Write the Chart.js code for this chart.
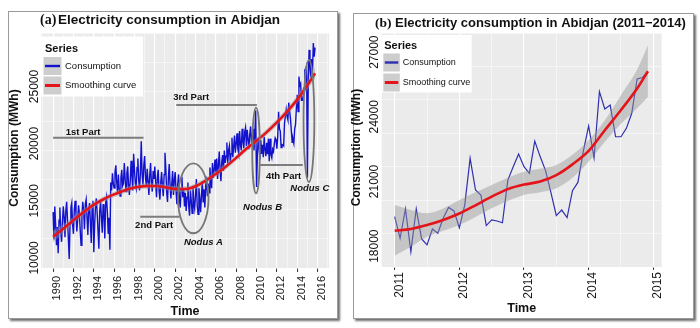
<!DOCTYPE html>
<html>
<head>
<meta charset="utf-8">
<script src="https://cdn.jsdelivr.net/npm/chart.js@4.4.1/dist/chart.umd.min.js"></script>
<style>
  html, body { margin: 0; padding: 0; background: #fff; }
  body { width: 700px; height: 328px; position: relative; overflow: hidden; }
  .frame { position: absolute; border: 1px solid #9a9a9a; box-shadow: 2px 2px 2px #6f6f6f; background: #fff; }
  #frameA { left: 8px; top: 11px; width: 328px; height: 306px; }
  #frameB { left: 353px; top: 13px; width: 339px; height: 304px; }
  canvas { position: absolute; top: 0; }
</style>
</head>
<body>
<div class="frame" id="frameA"></div>
<div class="frame" id="frameB"></div>
<canvas id="chartA" width="345" height="328" style="left:0"></canvas>
<canvas id="chartB" width="350" height="328" style="left:350px"></canvas>
<script>
// monthly consumption (MWh), January 1990 onwards
const consumption1990_2010 = [
  12500, 10100, 13000, 11400, 9600, 11200, 8900, 11800, 12900, 10800, 9900, 11600,   // 1990
  13000, 12100, 10300, 12600, 13400, 11800, 10200, 8400, 11500, 12900, 13300, 11400, // 1991
  10600, 12700, 13500, 12300, 10800, 11900, 13100, 12400, 10900, 9600, 12200, 13400, // 1992
  12600, 11000, 13200, 13600, 12100, 10500, 12700, 13300, 11600, 9800, 12800, 13500, // 1993
  9000, 11400, 13000, 13700, 12400, 10900, 9300, 12600, 13500, 12000, 10700, 13200,  // 1994
  12400, 10200, 13300, 13800, 12500, 10600, 12000, 9200, 15100, 14400, 15900, 15000, // 1995
  14600, 16000, 16600, 15200, 14200, 15800, 14500, 13900, 15500, 16200, 14800, 15000, // 1996
  16800, 15400, 14300, 15900, 16500, 14900, 14000, 15200, 17000, 15600, 14400, 17600, // 1997
  16200, 15000, 14600, 16400, 17200, 15300, 14400, 16000, 18700, 15800, 14900, 16600, // 1998
  17400, 15500, 14800, 16300, 15200, 14000, 15700, 16800, 15000, 14300, 16100, 15400, // 1999
  16500, 15000, 13800, 15600, 16200, 14400, 13600, 15100, 16000, 14700, 13900, 15800, // 2000
  17700, 16300, 14200, 13400, 15500, 16700, 14800, 13700, 15000, 16100, 14000, 15300, // 2001
  16000, 14400, 13200, 14900, 15800, 13600, 12900, 14500, 15600, 13800, 14600, 13000, // 2002
  14200, 12600, 13800, 15100, 13000, 12200, 14400, 13500, 12400, 14800, 13300, 12800, // 2003
  14000, 15400, 13100, 12300, 14600, 13700, 12500, 13900, 15200, 13400, 14500, 12900, // 2004
  14800, 15600, 13900, 15000, 14200, 16400, 15300, 14600, 16800, 15500, 16200, 17100, // 2005
  16000, 17200, 15400, 16600, 17800, 16200, 15200, 16900, 17500, 16100, 17900, 16800, // 2006
  17400, 18600, 16700, 17900, 18300, 16900, 17600, 19000, 17300, 18200, 19200, 17700, // 2007
  18500, 19400, 18000, 17600, 19600, 18400, 17900, 19800, 18700, 18100, 19500, 19900, // 2008
  18300, 19700, 18900, 18000, 19300, 20000, 18600, 19100, 19800, 17900, 19200, 21400, // 2009
  14700, 17500, 19000, 18200, 17100, 18800, 17600, 18400, 17300, 19100, 18000, 17400  // 2010
];
const consumption2011_2014 = [
  18570, 17570, 18930, 16950, 18930, 17540, 17260, 18000, 17800, 18500, 19000, 18840, // 2011
  18060, 19110, 21280, 19810, 19580, 18160, 18420, 18370, 18290, 20270, 20890, 21480, // 2012
  20890, 20580, 22080, 21360, 20710, 19690, 18620, 18880, 18530, 19780, 20160, 21590, // 2013
  22780, 21310, 24370, 23570, 23750, 22280, 22280, 22670, 23370, 24960, 25030, 25300  // 2014
];
const consumption2015 = [15500, 23800, 26700, 25200, 24300, 25900, 24800, 27300, 26100, 26900];

// smoothing curve and its confidence band, panel (a)
const smoothYearsA = [1990, 1991, 1992, 1993, 1994, 1995, 1996, 1997, 1998, 1999, 2000, 2001, 2002, 2003,
  2004, 2005, 2006, 2007, 2008, 2009, 2010, 2011, 2012, 2013, 2014, 2015, 2015.75];
const smoothA = [10350, 11050, 11800, 12500, 13150, 13650, 14050, 14400, 14650, 14780, 14790, 14680, 14520, 14520,
  14760, 15250, 15850, 16500, 17250, 18050, 18750, 19500, 20350, 21300, 22350, 23600, 24660];
const bandHighA = [10870, 11430, 12100, 12770, 13400, 13890, 14290, 14640, 14890, 15020, 15030, 14920, 14770, 14770,
  15010, 15500, 16100, 16750, 17500, 18310, 19020, 19780, 20640, 21610, 22690, 24000, 25200];
const bandLowA = [9830, 10670, 11500, 12230, 12900, 13410, 13810, 14160, 14410, 14540, 14550, 14440, 14270, 14270,
  14510, 15000, 15600, 16250, 17000, 17790, 18480, 19220, 20060, 20990, 22010, 23200, 24120];

// smoothing curve and its confidence band, panel (b)
const smoothYearsB = [2011, 2011.25, 2011.5, 2011.75, 2012, 2012.25, 2012.5, 2012.75, 2013, 2013.25, 2013.5,
  2013.75, 2014, 2014.25, 2014.5, 2014.75, 2014.917];
const smoothB = [17920, 18000, 18180, 18420, 18720, 19100, 19500, 19850, 20060, 20200, 20500,
  21000, 21620, 22580, 23520, 24520, 25320];
const bandHighB = [19110, 18880, 18730, 18950, 19340, 19700, 20040, 20380, 20660, 20800, 20970,
  21450, 22130, 23050, 24210, 25400, 26530];
const bandLowB = [16760, 17180, 17640, 17920, 18190, 18560, 18960, 19300, 19580, 19700, 19890,
  20380, 21120, 22050, 22880, 23600, 24140];

const xTicksA = [1990, 1992, 1994, 1996, 1998, 2000, 2002, 2004, 2006, 2008, 2010, 2012, 2014, 2016];
const yTicksA = [10000, 15000, 20000, 25000];
const xTicksB = [2011, 2012, 2013, 2014, 2015];
const yTicksB = [18000, 21000, 24000, 27000];

// annotations of panel (a), in data units (year, MWh)
const partLabels = ['1st Part', '2nd Part', '3rd Part', '4th Part'];
const partFrom = [1990.0, 1998.57, 2002.11, 2010.35];
const partTo = [1998.89, 2002.44, 2010.03, 2014.55];
const partLevel = [19010, 12100, 21875, 16620];
const partTextX = [1992.95, 1999.93, 2003.57, 2012.66];
const partTextY = [19470, 11370, 22560, 15660];

const nodusLabels = ['Nodus A', 'Nodus B', 'Nodus C'];
const nodusX = [2003.78, 2009.95, 2015.15];
const nodusY = [13710, 17900, 20475];
const nodusRx = [1.5, 0.37, 0.53];
const nodusRy = [3060, 3750, 5340];
const nodusTextX = [2004.78, 2010.59, 2015.24];
const nodusTextY = [9890, 12950, 14540];

const SANS = '"Liberation Sans", Arial, sans-serif';
const SERIF = '"Liberation Serif", "Times New Roman", serif';
const BLUE_A = '#1212cc';
const BLUE_B = '#2f2fb0';
const RED = '#e5141b';

const monthly = (start, vals) => vals.map((v, i) => ({ x: start + i / 12, y: v }));
const pairs = (xs, ys) => xs.map((x, i) => ({ x: x, y: ys[i] }));

function text(ctx, s, x, y, font, align, base, rot) {
  ctx.save();
  ctx.translate(x, y);
  if (rot) ctx.rotate(rot);
  ctx.font = font;
  ctx.fillStyle = '#111';
  ctx.textAlign = align;
  ctx.textBaseline = base;
  ctx.fillText(s, 0, 0);
  ctx.restore();
}

function drawLegend(ctx, L) {
  ctx.save();
  ctx.fillStyle = '#fff';
  ctx.fillRect(L.x, L.y, L.w, L.h);
  text(ctx, 'Series', L.x + L.pad, L.titleY, 'bold ' + L.titleSize + 'px ' + SANS, 'left', 'alphabetic');
  const items = [['Consumption', L.blue, 2.4], ['Smoothing curve', RED, 3]];
  items.forEach((it, i) => {
    const ky = L.keyY[i];
    ctx.fillStyle = '#cdcdcd';
    ctx.fillRect(L.x + L.keyX, ky, L.keyW, L.keyH);
    ctx.strokeStyle = it[1];
    ctx.lineWidth = it[2];
    ctx.beginPath();
    ctx.moveTo(L.x + L.keyX + 1.5, ky + L.keyH / 2);
    ctx.lineTo(L.x + L.keyX + L.keyW - 1.5, ky + L.keyH / 2);
    ctx.stroke();
    text(ctx, it[0], L.textX, ky + L.keyH / 2, L.textSize + 'px ' + SANS, 'left', 'middle');
  });
  ctx.restore();
}

function makeDecor(spec) {
  return {
    id: 'decor',
    beforeDraw(chart) {
      const { ctx, chartArea: a } = chart;
      ctx.save();
      ctx.fillStyle = '#ebebeb';
      ctx.fillRect(a.left, a.top, a.right - a.left, a.bottom - a.top);
      ctx.restore();
    },
    afterDatasetsDraw(chart) {
      if (spec.annotate) spec.annotate(chart);
    },
    afterDraw(chart) {
      const { ctx, chartArea: a } = chart;
      const ys = chart.scales.y;
      spec.yTicks.forEach(v => {
        text(ctx, String(v), spec.yLabelX, ys.getPixelForValue(v) + 0.5, '12px ' + SANS, 'right', 'middle', -Math.PI / 2);
      });
      text(ctx, spec.tag, spec.tagX, spec.titleY, 'bold ' + spec.tagSize + 'px ' + SERIF, 'left', 'alphabetic');
      text(ctx, spec.title, spec.titleX, spec.titleY, 'bold ' + spec.titleSize + 'px ' + SANS, 'left', 'alphabetic');
      text(ctx, 'Consumption (MWh)', spec.yTitleX, spec.yTitleY, 'bold 12px ' + SANS, 'center', 'middle', -Math.PI / 2);
      text(ctx, 'Time', (a.left + a.right) / 2, spec.xTitleY, 'bold 12.5px ' + SANS, 'center', 'middle');
      drawLegend(ctx, spec.legend);
    }
  };
}

function annotateA(chart) {
  const { ctx } = chart;
  const xs = chart.scales.x, ys = chart.scales.y;
  ctx.save();
  ctx.strokeStyle = '#7d7d7d';
  ctx.lineWidth = 2;
  partLabels.forEach((lab, i) => {
    const py = ys.getPixelForValue(partLevel[i]);
    ctx.beginPath();
    ctx.moveTo(xs.getPixelForValue(partFrom[i]), py);
    ctx.lineTo(xs.getPixelForValue(partTo[i]), py);
    ctx.stroke();
    text(ctx, lab, xs.getPixelForValue(partTextX[i]), ys.getPixelForValue(partTextY[i]), 'bold 9.5px ' + SANS, 'center', 'middle');
  });
  ctx.strokeStyle = '#777';
  ctx.lineWidth = 1.8;
  nodusLabels.forEach((lab, i) => {
    const cx = xs.getPixelForValue(nodusX[i]);
    const cy = ys.getPixelForValue(nodusY[i]);
    const rx = Math.abs(xs.getPixelForValue(nodusX[i] + nodusRx[i]) - cx);
    const ry = Math.abs(ys.getPixelForValue(nodusY[i] + nodusRy[i]) - cy);
    ctx.beginPath();
    ctx.ellipse(cx, cy, rx, ry, 0, 0, Math.PI * 2);
    ctx.stroke();
    text(ctx, lab, xs.getPixelForValue(nodusTextX[i]), ys.getPixelForValue(nodusTextY[i]), 'italic bold 9.5px ' + SANS, 'center', 'middle');
  });
  ctx.restore();
}

function gridOpts(isMajor) {
  return {
    color: '#ffffff',
    lineWidth: c => (c.tick && isMajor(c.tick.value)) ? 1.1 : 0.5,
    tickColor: c => (c.tick && isMajor(c.tick.value)) ? '#333' : 'rgba(0,0,0,0)',
    tickWidth: 1,
    tickLength: 3
  };
}

function buildChart(id, cfg) {
  const isMajorX = v => cfg.xTicks.some(t => Math.abs(t - v) < 1e-6);
  const isMajorY = v => cfg.yTicks.some(t => Math.abs(t - v) < 1e-6);
  const xg = gridOpts(isMajorX);
  xg.tickLength = cfg.xTickLen;
  return new Chart(document.getElementById(id), {
    type: 'line',
    data: {
      datasets: [
        { data: cfg.smooth, borderColor: RED, borderWidth: 2.6, pointRadius: 0, fill: false,
          cubicInterpolationMode: 'monotone', order: 0 },
        { data: cfg.bandHigh, borderColor: 'rgba(0,0,0,0)', pointRadius: 0, fill: '+1',
          backgroundColor: 'rgba(150,150,150,0.45)', cubicInterpolationMode: 'monotone', order: 1 },
        { data: cfg.bandLow, borderColor: 'rgba(0,0,0,0)', pointRadius: 0, fill: false,
          cubicInterpolationMode: 'monotone', order: 1 },
        { data: cfg.cons, borderColor: cfg.blue, borderWidth: cfg.blueWidth, pointRadius: 0, fill: false,
          tension: 0, order: 2 }
      ]
    },
    options: {
      responsive: false,
      animation: false,
      devicePixelRatio: 1,
      layout: { padding: { left: 0, right: cfg.padRight, top: 33, bottom: 0 } },
      plugins: { legend: { display: false }, tooltip: { enabled: false } },
      events: [],
      scales: {
        x: {
          type: 'linear', min: cfg.xMin, max: cfg.xMax,
          afterFit: s => { s.height = cfg.xAxisH; },
          border: { display: false },
          grid: xg,
          ticks: {
            stepSize: cfg.xStep, includeBounds: false, autoSkip: false,
            minRotation: 90, maxRotation: 90, labelOffset: cfg.labelOffset, padding: cfg.xPad,
            color: '#1a1a1a', font: { family: SANS, size: cfg.xFont },
            callback: v => isMajorX(v) ? String(Math.round(v)) : ''
          }
        },
        y: {
          type: 'linear', min: cfg.yMin, max: cfg.yMax,
          afterFit: s => { s.width = cfg.yAxisW; },
          border: { display: false },
          grid: gridOpts(isMajorY),
          ticks: { stepSize: cfg.yStep, includeBounds: false, display: false }
        }
      }
    },
    plugins: [makeDecor(cfg.decor)]
  });
}

buildChart('chartA', {
  cons: monthly(1990, consumption1990_2010.concat(consumption2011_2014, consumption2015)),
  smooth: pairs(smoothYearsA, smoothA),
  bandHigh: pairs(smoothYearsA, bandHighA),
  bandLow: pairs(smoothYearsA, bandLowA),
  blue: BLUE_A, blueWidth: 1.4,
  xTicks: xTicksA, yTicks: yTicksA,
  xMin: 1988.81, xMax: 2017.14, xStep: 1,
  yMin: 7611, yMax: 28177, yStep: 2500,
  xAxisH: 60, yAxisW: 41, padRight: 11.5,
  xTickLen: 4, xPad: 4, xFont: 11, labelOffset: 4.3,
  decor: {
    yTicks: yTicksA, yLabelX: 34.5,
    tag: '(a)', tagX: 40, tagSize: 14,
    title: 'Electricity consumption in Abidjan', titleX: 58, titleY: 24, titleSize: 13.5,
    yTitleX: 15, yTitleY: 148, xTitleY: 311.5,
    annotate: annotateA,
    legend: { x: 41, y: 36.5, w: 102, h: 60, pad: 4, titleY: 51.5, titleSize: 11,
      keyX: 2.5, keyW: 18, keyH: 18, keyY: [57, 76.5], textX: 65, textSize: 9.5, blue: BLUE_A }
  }
});

buildChart('chartB', {
  cons: monthly(2011, consumption2011_2014),
  smooth: pairs(smoothYearsB, smoothB),
  bandHigh: pairs(smoothYearsB, bandHighB),
  bandLow: pairs(smoothYearsB, bandLowB),
  blue: BLUE_B, blueWidth: 1.2,
  xTicks: xTicksB, yTicks: yTicksB,
  xMin: 2010.799, xMax: 2015.13, xStep: 0.5,
  yMin: 16237, yMax: 27093, yStep: 1500,
  xAxisH: 61, yAxisW: 31.7, padRight: 38.3,
  xTickLen: 3, xPad: 2, xFont: 12, labelOffset: 4.5,
  decor: {
    yTicks: yTicksB, yLabelX: 25,
    tag: '(b)', tagX: 25, tagSize: 13.5,
    title: 'Electricity consumption in Abidjan (2011\u22122014)', titleX: 45, titleY: 26.5, titleSize: 13,
    yTitleX: 6.8, yTitleY: 147.5, xTitleY: 308.8,
    legend: { x: 31.7, y: 35, w: 90, h: 57.5, pad: 2.5, titleY: 49, titleSize: 11,
      keyX: 1.6, keyW: 16.5, keyH: 18, keyY: [53.5, 73.5], textX: 52.7, textSize: 9, blue: BLUE_B }
  }
});
</script>
</body>
</html>
